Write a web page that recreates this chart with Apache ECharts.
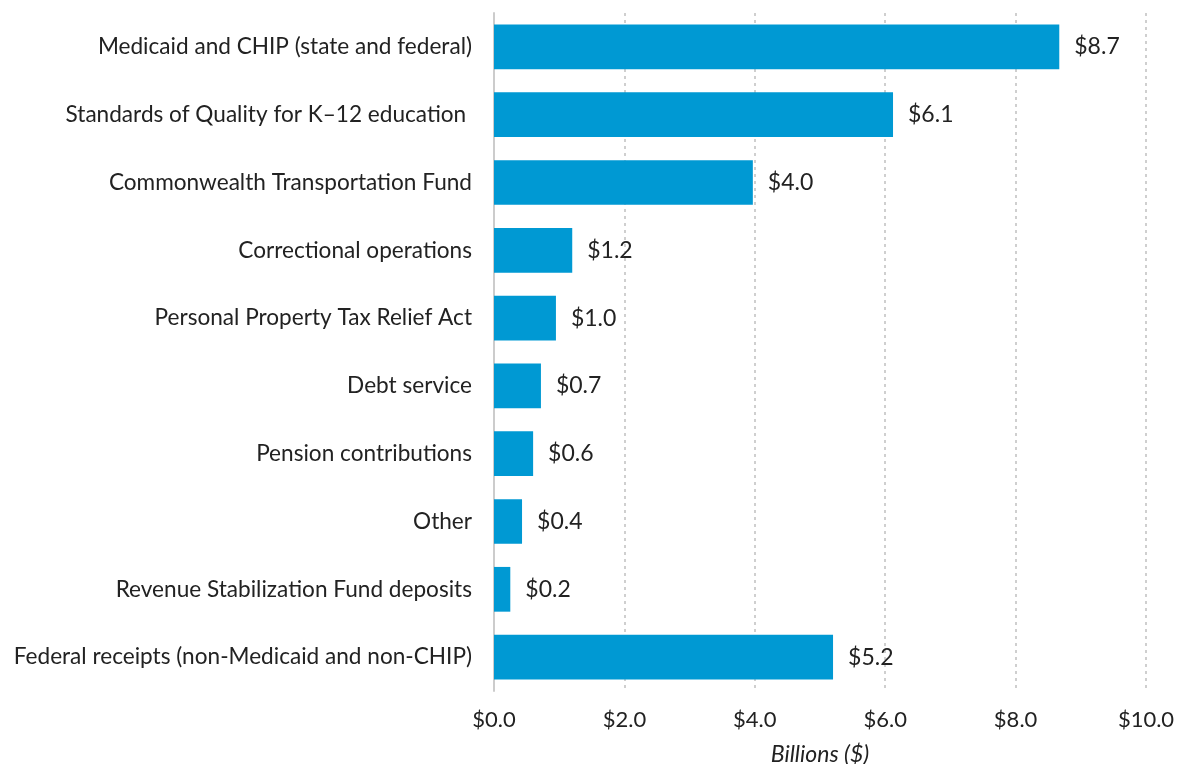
<!DOCTYPE html>
<html><head><meta charset="utf-8">
<script src="https://cdn.jsdelivr.net/npm/echarts@6/dist/echarts.min.js"></script>
<style>html,body{margin:0;padding:0;background:#fff}#c{width:1177px;height:764px}</style>
</head><body><div id="c"></div>
<script>
const categories = [
  "Medicaid and CHIP (state and federal)",
  "Standards of Quality for K\u201312 education ",
  "Commonwealth Transportation Fund",
  "Correctional operations",
  "Personal Property Tax Relief Act",
  "Debt service",
  "Pension contributions",
  "Other",
  "Revenue Stabilization Fund deposits",
  "Federal receipts (non-Medicaid and non-CHIP)"
];
const values = [8.67, 6.12, 3.97, 1.2, 0.95, 0.72, 0.6, 0.43, 0.25, 5.2];
const valueLabels = ["$8.7", "$6.1", "$4.0", "$1.2", "$1.0", "$0.7", "$0.6", "$0.4", "$0.2", "$5.2"];
const xTicks = [0, 2, 4, 6, 8, 10];
const axisTitle = "Billions ($)";

const chart = echarts.init(document.getElementById('c'), null, {renderer: 'canvas'});
chart.setOption({
  animation: false,
  textStyle: {fontFamily: 'Lato'},
  grid: {left: 494, right: 31, top: 13, bottom: 73, containLabel: false, outerBoundsMode: 'none'},
  xAxis: {
    type: 'value', min: xTicks[0], max: xTicks[xTicks.length - 1], interval: 2,
    name: axisTitle, nameLocation: 'middle', nameGap: 52,
    nameTextStyle: {fontFamily: 'Lato', fontStyle: 'italic', fontSize: 23, color: '#222'},
    axisLine: {show: false}, axisTick: {show: false},
    axisLabel: {fontFamily: 'Lato', fontSize: 22, color: '#222', margin: 18,
      formatter: v => '$' + v.toFixed(1)},
    splitLine: {show: true, lineStyle: {color: '#cfcfcf', type: [3, 4], width: 2}}
  },
  yAxis: {
    type: 'category', data: categories, inverse: true,
    axisLine: {show: true, lineStyle: {color: '#cccccc', width: 2}},
    axisTick: {show: false},
    axisLabel: {fontFamily: 'Lato', fontSize: 22.6, color: '#222', margin: 22}
  },
  series: [{
    type: 'bar', data: values, barCategoryGap: '34%',
    itemStyle: {color: '#0099d3'},
    label: {show: true, position: 'right', distance: 15, fontFamily: 'Lato', fontSize: 23, color: '#222',
      formatter: p => valueLabels[p.dataIndex]}
  }]
});
</script></body></html>
